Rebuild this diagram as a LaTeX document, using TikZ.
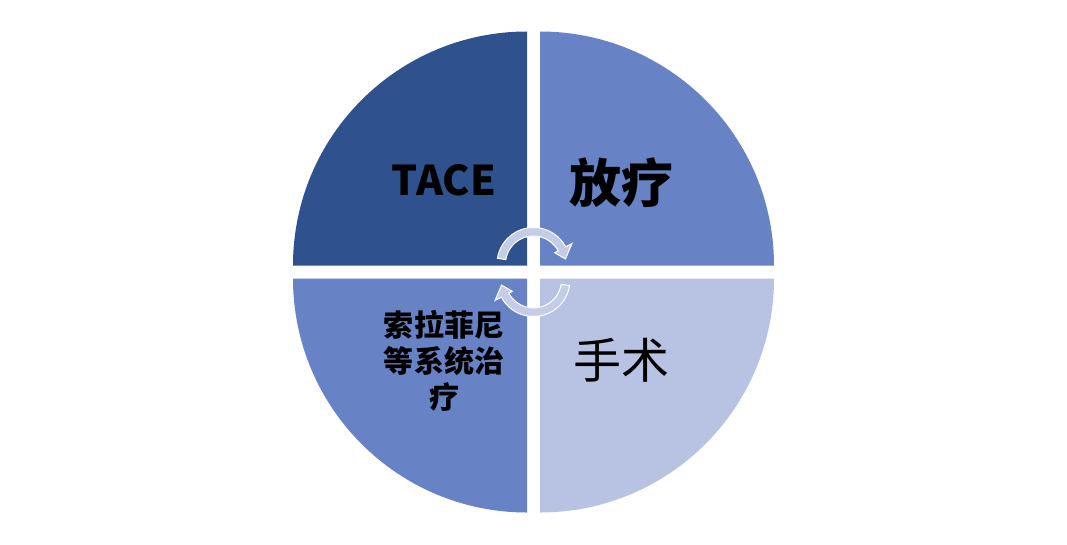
\documentclass[tikz,border=0pt]{standalone}
\usepackage{fontspec}
\setmainfont{Noto Sans CJK SC}
\usepackage{xcolor}
\usepackage{tikz}
\usetikzlibrary{calc, positioning}

\definecolor{darkquad}{HTML}{2F528F}
\definecolor{midquad}{HTML}{6783C5}
\definecolor{lightquad}{HTML}{B8C3E3}
\definecolor{cyclefill}{HTML}{C4CDE7}

\begin{document}
\begin{tikzpicture}[x=1pt, y=1pt,
		quad/.style={draw=none},
		cyclearrow/.style={fill=cyclefill, draw=white, line width=1pt, line join=miter},
		label/.style={inner sep=0pt, align=center, text=black}]
		\useasboundingbox (-533.5,-272) rectangle (533.5,272);

		% four quarters
		\fill[quad, darkquad] (-6.5,6.5) -- (-240.5,6.5) arc[start angle=180, end angle=90, radius=234pt] -- cycle;
		\fill[quad, midquad] (6.5,6.5) -- (6.5,240.5) arc[start angle=90, end angle=0, radius=234pt] -- cycle;
		\fill[quad, lightquad] (6.5,-6.5) -- (240.5,-6.5) arc[start angle=0, end angle=-90, radius=234pt] -- cycle;
		\fill[quad, midquad] (-6.5,-6.5) -- (-6.5,-240.5) arc[start angle=270, end angle=180, radius=234pt] -- cycle;

		% cycle arrows
		\begin{scope}[shift={(0,8)}]
			\filldraw[cyclearrow] (171:36.5pt) arc[start angle=171, end angle=28, radius=36.5pt]
			-- (28:43.5pt) -- (9:32.4pt) -- (28:24pt) -- (28:28pt)
			arc[start angle=28, end angle=171, radius=28pt] -- cycle;
		\end{scope}
		\begin{scope}[shift={(0,-8)}, rotate=180]
			\filldraw[cyclearrow] (171:36.5pt) arc[start angle=171, end angle=28, radius=36.5pt]
			-- (28:43.5pt) -- (9:32.4pt) -- (28:24pt) -- (28:28pt)
			arc[start angle=28, end angle=171, radius=28pt] -- cycle;
		\end{scope}

		\node[label, font=\bfseries\fontsize{41}{41}\selectfont] (tace) at (-89.5,92) {TACE};
		\node[label, font=\bfseries\fontsize{52}{52}\selectfont] (radio) at (87.5,89) {放疗};
		\node[label, font=\bfseries\fontsize{30}{36}\selectfont] (sora) at (-89.5,-89) {索拉菲尼\\等系统治\\疗};
		\node[label, font=\fontsize{48}{48}\selectfont] (surgery) at (87.5,-88) {手术};

	\end{tikzpicture}
\end{document}
